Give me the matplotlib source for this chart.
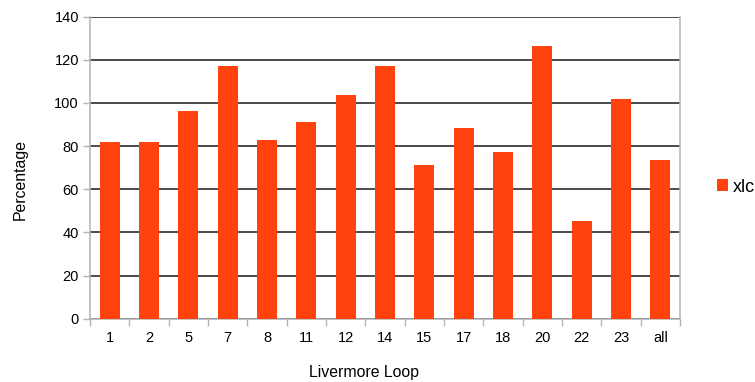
import matplotlib
matplotlib.use("Agg")
import matplotlib.pyplot as plt
from matplotlib.patches import Patch

plt.rcParams['font.family'] = ['Liberation Sans', 'DejaVu Sans']

loops = ["1", "2", "5", "7", "8", "11", "12", "14", "15", "17", "18", "20", "22", "23", "all"]
xlc = [81.9, 81.9, 96.3, 117.1, 82.8, 91.2, 103.7, 117.1, 71.2, 88.4, 77.3, 126.4, 45.3, 101.8, 73.6]
yticks = [0, 20, 40, 60, 80, 100, 120, 140]

bar_color = "#ff420e"
axis_color = "#b3b3b3"

W, H = 755, 382
fig = plt.figure(figsize=(W / 100, H / 100), dpi=100)
ax = fig.add_axes([90 / W, 1 - 318.7 / H, 590 / W, 302 / H])

pos = list(range(len(loops)))
ax.bar(pos, xlc, width=0.51, color=bar_color, zorder=3)

ax.set_xlim(-0.5, len(loops) - 0.5)
ax.set_ylim(0, 140)
ax.set_yticks(yticks)
ax.set_yticklabels([str(v) for v in yticks], fontsize=10.5)
ax.set_xticks(pos)
ax.set_xticklabels(loops, fontsize=10.5)
ax.set_xticks([p - 0.5 for p in pos] + [len(loops) - 0.5], minor=True)

ax.tick_params(axis="x", which="major", length=0, pad=9)
ax.tick_params(axis="x", which="minor", length=5, color=axis_color, width=1)
ax.tick_params(axis="y", which="major", length=5, color=axis_color, width=1, pad=3)

ax.grid(axis="y", color="#1a1a1a", linewidth=1.1, zorder=1)
for s in ["left", "bottom", "right"]:
    ax.spines[s].set_color(axis_color)
    ax.spines[s].set_linewidth(1.1)
ax.spines["top"].set_visible(False)

fig.text(364 / W, 1 - 373 / H, "Livermore Loop", fontsize=11.4,
         ha="center", va="center")
fig.text(20 / W, 1 - 179 / H, "Percentage", fontsize=11.4,
         ha="center", va="center", rotation=90)

fig.legend(handles=[Patch(facecolor=bar_color, label="xlc")],
           loc="center left", bbox_to_anchor=(717 / W, 1 - 187 / H),
           frameon=False, fontsize=13, handlelength=0.6, handleheight=0.6,
           handletextpad=0.3, borderpad=0, borderaxespad=0)

fig.savefig("out.png", dpi=100)
